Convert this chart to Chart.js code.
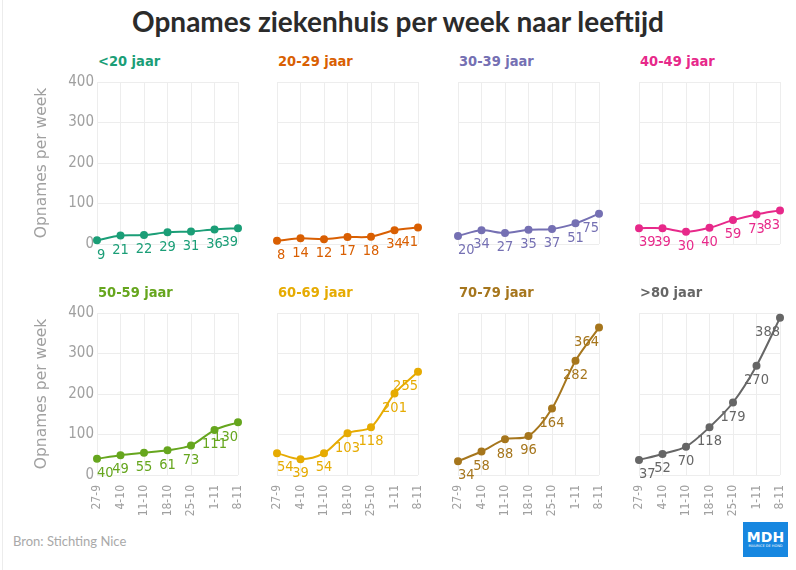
<!DOCTYPE html>
<html>
<head>
<meta charset="utf-8">
<script src="https://cdn.jsdelivr.net/npm/chart.js@4.4.1/dist/chart.umd.min.js"></script>
<style>
  html, body { margin:0; padding:0; background:#fff; }
  body { width:796px; height:570px; position:relative; overflow:hidden; }
  #edge { position:absolute; left:2px; top:0; width:1px; height:570px; background:#ececec; }
  #title { position:absolute; left:0; width:796px; top:4px; text-align:center;
           font-family:Lato, 'Open Sans', sans-serif; font-weight:700; font-size:28px; color:#2b2b2b; }
  .ptitle { position:absolute; font-family:'DejaVu Sans Condensed','DejaVu Sans',sans-serif; font-weight:700; font-size:14.5px; }
  canvas { position:absolute; }
  #src { position:absolute; left:13px; top:533px; font-family:Lato, sans-serif; font-size:13px; color:#a9a9a9; }
  #logo { position:absolute; left:743px; top:522px; width:45px; height:35px; background:#1787e0; color:#fff; text-align:center; font-family:'DejaVu Sans', sans-serif; }
  #logo .big { font-weight:700; font-size:14px; line-height:14px; margin-top:8px; letter-spacing:0px; }
  #logo .small { font-size:3.5px; line-height:5px; }
</style>
</head>
<body>
<div id="edge"></div>
<div id="title">Opnames ziekenhuis per week naar leeftijd</div>
<div id="src">Bron: Stichting Nice</div>
<div id="logo"><div class="big">MDH</div><div class="small">MAURICE DE HOND</div></div>
<script>
// ---- data ----
const weeks = ['27-9', '4-10', '11-10', '18-10', '25-10', '1-11', '8-11'];
const groups = ['<20 jaar', '20-29 jaar', '30-39 jaar', '40-49 jaar', '50-59 jaar', '60-69 jaar', '70-79 jaar', '>80 jaar'];
const under20 = [9, 21, 22, 29, 31, 36, 39];
const age20_29 = [8, 14, 12, 17, 18, 34, 41];
const age30_39 = [20, 34, 27, 35, 37, 51, 75];
const age40_49 = [39, 39, 30, 40, 59, 73, 83];
const age50_59 = [40, 49, 55, 61, 73, 111, 130];
const age60_69 = [54, 39, 54, 103, 118, 201, 255];
const age70_79 = [34, 58, 88, 96, 164, 282, 364];
const over80 = [37, 52, 70, 118, 179, 270, 388];
const yTicks = [0, 100, 200, 300, 400];
const yTitle = 'Opnames per week';

// ---- styles ----
const seriesValues = [under20, age20_29, age30_39, age40_49, age50_59, age60_69, age70_79, over80];
const colors = ['#1b9e77', '#d95f02', '#7570b3', '#e7298a', '#66a61e', '#e6ab02', '#a6761d', '#666666'];
const plotLefts = [97, 277, 458, 639];
const plotTops = [82, 313];
const plotW = 141, plotH = 162;
const numFont = "'DejaVu Sans Condensed','DejaVu Sans',sans-serif";

const labelPlugin = {
  id: 'valueLabels',
  afterDatasetsDraw(chart) {
    const ctx = chart.ctx;
    const area = chart.chartArea;
    const ds = chart.data.datasets[0];
    const meta = chart.getDatasetMeta(0);
    ctx.save();
    ctx.font = '14.5px ' + numFont;
    ctx.fillStyle = ds.borderColor;
    ctx.textAlign = 'center';
    ctx.textBaseline = 'middle';
    meta.data.forEach((pt, i) => {
      const txt = String(ds.data[i]);
      const w = ctx.measureText(txt).width;
      let x = pt.x;
      if (x - w / 2 < area.left) x = area.left + w / 2;
      if (x + w / 2 > area.right) x = area.right - w / 2;
      ctx.fillText(txt, x, pt.y + 14.5);
    });
    ctx.restore();
  }
};

seriesValues.forEach((vals, idx) => {
  const row = Math.floor(idx / 4), col = idx % 4;
  const L = col === 0 ? 68 : 20;
  const T = 10, R = 10, B = 50;
  const cv = document.createElement('canvas');
  const W = L + plotW + R, H = T + plotH + B;
  cv.width = W; cv.height = H;
  cv.style.left = (plotLefts[col] - L) + 'px';
  cv.style.top = (plotTops[row] - T) + 'px';
  cv.style.width = W + 'px'; cv.style.height = H + 'px';
  document.body.appendChild(cv);

  const t = document.createElement('div');
  t.className = 'ptitle';
  t.textContent = groups[idx];
  t.style.color = colors[idx];
  t.style.left = (plotLefts[col] + 1) + 'px';
  t.style.top = (plotTops[row] - 29) + 'px';
  document.body.appendChild(t);

  new Chart(cv, {
    type: 'line',
    data: {
      labels: weeks,
      datasets: [{
        data: vals,
        borderColor: colors[idx],
        backgroundColor: colors[idx],
        pointBackgroundColor: colors[idx],
        pointBorderColor: colors[idx],
        pointRadius: 3,
        pointHoverRadius: 3,
        borderWidth: 2,
        tension: 0.3,
        clip: false
      }]
    },
    options: {
      responsive: false,
      animation: false,
      events: [],
      layout: { padding: { top: T, right: R, left: 0, bottom: 0 } },
      plugins: { legend: { display: false }, tooltip: { enabled: false }, title: { display: false } },
      scales: {
        x: {
          grid: { color: '#ededed', drawTicks: false },
          border: { display: false },
          ticks: {
            display: row === 1, autoSkip: false, minRotation: 90, maxRotation: 90,
            padding: 10, color: '#a0a0a0', font: { size: 12, family: numFont }
          },
          afterFit: s => { s.height = B; s.paddingLeft = 0; s.paddingRight = 0; }
        },
        y: {
          min: 0, max: 400,
          afterBuildTicks: s => { s.ticks = yTicks.map(v => ({ value: v })); },
          grid: { color: '#ededed', drawTicks: false },
          border: { display: false },
          ticks: { display: col === 0, padding: 3, color: '#a0a0a0', font: { size: 15, family: numFont } },
          title: { display: col === 0, text: yTitle, color: '#a0a0a0', font: { size: 15.5, family: "'DejaVu Sans',sans-serif" }, padding: { top: 4, bottom: 0 } },
          afterFit: s => { s.width = L; s.paddingTop = 0; s.paddingBottom = 0; }
        }
      }
    },
    plugins: [labelPlugin]
  });
});
</script>
</body>
</html>
